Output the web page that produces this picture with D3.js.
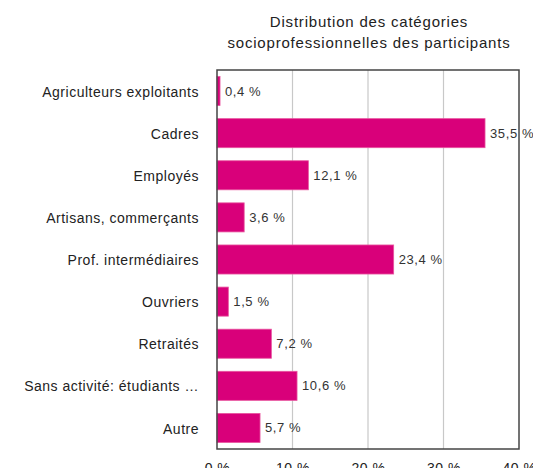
<!DOCTYPE html>
<html><head><meta charset="utf-8">
<script src="https://cdn.jsdelivr.net/npm/d3@7"></script>
<style>body{margin:0;background:#fff;}svg{display:block;font-family:"Liberation Sans",Arial,sans-serif;}</style>
</head><body>
<svg id="c" width="533" height="468"></svg>
<script>
const categories = ["Agriculteurs exploitants","Cadres","Employés","Artisans, commerçants","Prof. intermédiaires","Ouvriers","Retraités","Sans activité: étudiants …","Autre"];
const values = [0.4, 35.5, 12.1, 3.6, 23.4, 1.5, 7.2, 10.6, 5.7];
const xTicks = [0, 10, 20, 30, 40];
const titleLines = ["Distribution des catégories","socioprofessionnelles des participants"];

const svg = d3.select("#c");
const m = {left:217, right:519, top:70, bottom:449};
const x = d3.scaleLinear().domain([0,40]).range([m.left, m.right]);
const y = d3.scaleBand().domain(categories).range([m.top, m.bottom]).paddingInner(0.31).paddingOuter(0.155);

// title
svg.append("g").selectAll("text").data(titleLines).join("text")
  .attr("x", (m.left+m.right)/2+1).attr("y",(d,i)=>27+i*21)
  .attr("text-anchor","middle").attr("font-size",15).attr("letter-spacing",0.8).attr("fill","#222").text(d=>d);

// gridlines
svg.append("g").selectAll("line").data(xTicks.slice(1,-1)).join("line")
  .attr("x1",d=>x(d)).attr("x2",d=>x(d)).attr("y1",m.top).attr("y2",m.bottom)
  .attr("stroke","#c8c8c8").attr("stroke-width",1.2);

// bars
svg.append("g").selectAll("rect").data(values).join("rect")
  .attr("x", x(0)).attr("y",(d,i)=>y(categories[i]))
  .attr("width", d=>x(d)-x(0)).attr("height", y.bandwidth())
  .attr("fill","#d9007a").attr("stroke","#e8559f").attr("stroke-width",0.8);

// value labels
svg.append("g").selectAll("text").data(values).join("text")
  .attr("x", d=>x(d)+5).attr("y",(d,i)=>y(categories[i])+y.bandwidth()/2)
  .attr("dy","0.35em").attr("font-size",13).attr("letter-spacing",0.6).attr("fill","#333")
  .text(d=>d.toFixed(1).replace(".",",")+" %");

// frame
svg.append("rect").attr("x",m.left).attr("y",m.top).attr("width",m.right-m.left).attr("height",m.bottom-m.top)
  .attr("fill","none").attr("stroke","#444").attr("stroke-width",1.5);

// y axis labels
const yAxis = d3.axisLeft(y).tickSize(0).tickPadding(18);
const ga = svg.append("g").attr("transform",`translate(${m.left},0)`).call(yAxis);
ga.select(".domain").remove();
ga.selectAll("text").attr("font-size",14).attr("letter-spacing",0.5).attr("fill","#222").attr("font-family","Liberation Sans, Arial, sans-serif").attr("dy","0.4em");

// x axis labels
const xAxis = d3.axisBottom(x).tickValues(xTicks).tickSize(0).tickPadding(14).tickFormat(d=>d+" %");
const gx = svg.append("g").attr("transform",`translate(0,${m.bottom})`).call(xAxis);
gx.select(".domain").remove();
gx.selectAll("text").attr("font-size",14).attr("letter-spacing",0.5).attr("fill","#222").attr("font-family","Liberation Sans, Arial, sans-serif");
</script>
</body></html>
